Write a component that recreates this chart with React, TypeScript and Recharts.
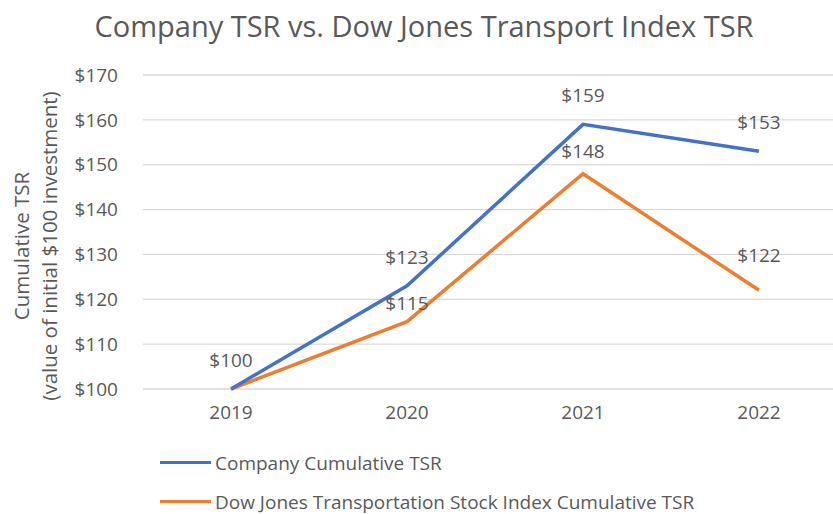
import { LineChart, Line, XAxis, YAxis, CartesianGrid, Legend, LabelList } from 'recharts';

const years = ['2019', '2020', '2021', '2022'];
const companyTsr = [100, 123, 159, 153];
const dowJonesTsr = [100, 115, 148, 122];
const yTicks = [100, 110, 120, 130, 140, 150, 160, 170];
const seriesNames = ['Company Cumulative TSR', 'Dow Jones Transportation Stock Index Cumulative TSR'];

const FONT = '"Open Sans", sans-serif';
const GREY = '#595959';
const BLUE = '#4472C4';
const ORANGE = '#ED7D31';

// Abstand der orangen Datenbeschriftungen über dem Punkt (wie im Original verteilt)
const dowLabelLift = [0, 12, 16, 28];

const data = years.map((y, i) => ({ year: y, company: companyTsr[i], dow: dowJonesTsr[i] }));

// y-Achsentitel, zweizeilig, gedreht
const YTitle = () => {
  const cx = 36;
  const cy = 246;
  return (
    <text transform={`rotate(-90, ${cx}, ${cy})`} x={cx} y={cy} textAnchor="middle" fill={GREY} fontSize={20.5} fontFamily={FONT}>
      <tspan x={cx} dy={-7}>Cumulative TSR</tspan>
      <tspan x={cx} dy={28}>(value of initial $100 investment)</tspan>
    </text>
  );
};

// orange Beschriftung; 2019 liegt im Original unter dem blauen $100
const DowLabel = (props: any) => {
  const { x, y, value, index } = props;
  if (index === 0) return null;
  return (
    <text x={x} y={y - dowLabelLift[index]} textAnchor="middle" fill={GREY} fontSize={19} fontFamily={FONT}>
      {`$${value}`}
    </text>
  );
};

const LegendBox = () => (
  <div style={{ fontFamily: FONT, fontSize: 19, color: GREY, height: 80 }}>
    {seriesNames.map((n, i) => (
      <div key={n} style={{ display: 'flex', alignItems: 'center', height: 39 }}>
        <span style={{ display: 'inline-block', width: 51, height: 3, background: i === 0 ? BLUE : ORANGE, marginRight: 4 }} />
        <span>{n}</span>
      </div>
    ))}
  </div>
);

export default function App() {
  return (
    <div style={{ position: 'absolute', left: 0, top: 0, width: 833, height: 514, overflow: 'hidden', background: '#fff' }}>
      <div style={{ position: 'absolute', left: 0, top: 6, width: 848, textAlign: 'center', fontFamily: FONT, fontSize: 29, color: GREY, zIndex: 2 }}>
        Company TSR vs. Dow Jones Transport Index TSR
      </div>
      <LineChart width={860} height={514} data={data} margin={{ top: 75, right: 13, bottom: 15, left: 0 }}>
        <CartesianGrid horizontal vertical={false} stroke="#d9d9d9" strokeWidth={1.3} />
        <XAxis dataKey="year" padding={{ left: 88, right: 88 }} axisLine={false} tickLine={false} tickSize={0} tickMargin={17} height={30}
          tick={{ fill: GREY, fontSize: 19, fontFamily: FONT }} />
        <YAxis domain={[100, 170]} ticks={yTicks} width={143} axisLine={false} tickLine={false} tickSize={0} tickMargin={25}
          tickFormatter={(v: number) => `$${v}`} tick={{ fill: GREY, fontSize: 19, fontFamily: FONT }} label={<YTitle />} />
        <Legend verticalAlign="bottom" content={<LegendBox />} wrapperStyle={{ left: 160, top: 443, width: 640 }} />
        <Line type="linear" dataKey="dow" name={seriesNames[1]} stroke={ORANGE} strokeWidth={3.5} dot={false} isAnimationActive={false}>
          <LabelList dataKey="dow" content={<DowLabel />} />
        </Line>
        <Line type="linear" dataKey="company" name={seriesNames[0]} stroke={BLUE} strokeWidth={3.5} dot={false} isAnimationActive={false}>
          <LabelList dataKey="company" position="top" offset={22} formatter={(v: any) => `$${v}`} fill={GREY} fontSize={19} fontFamily={FONT} />
        </Line>
      </LineChart>
    </div>
  );
}
